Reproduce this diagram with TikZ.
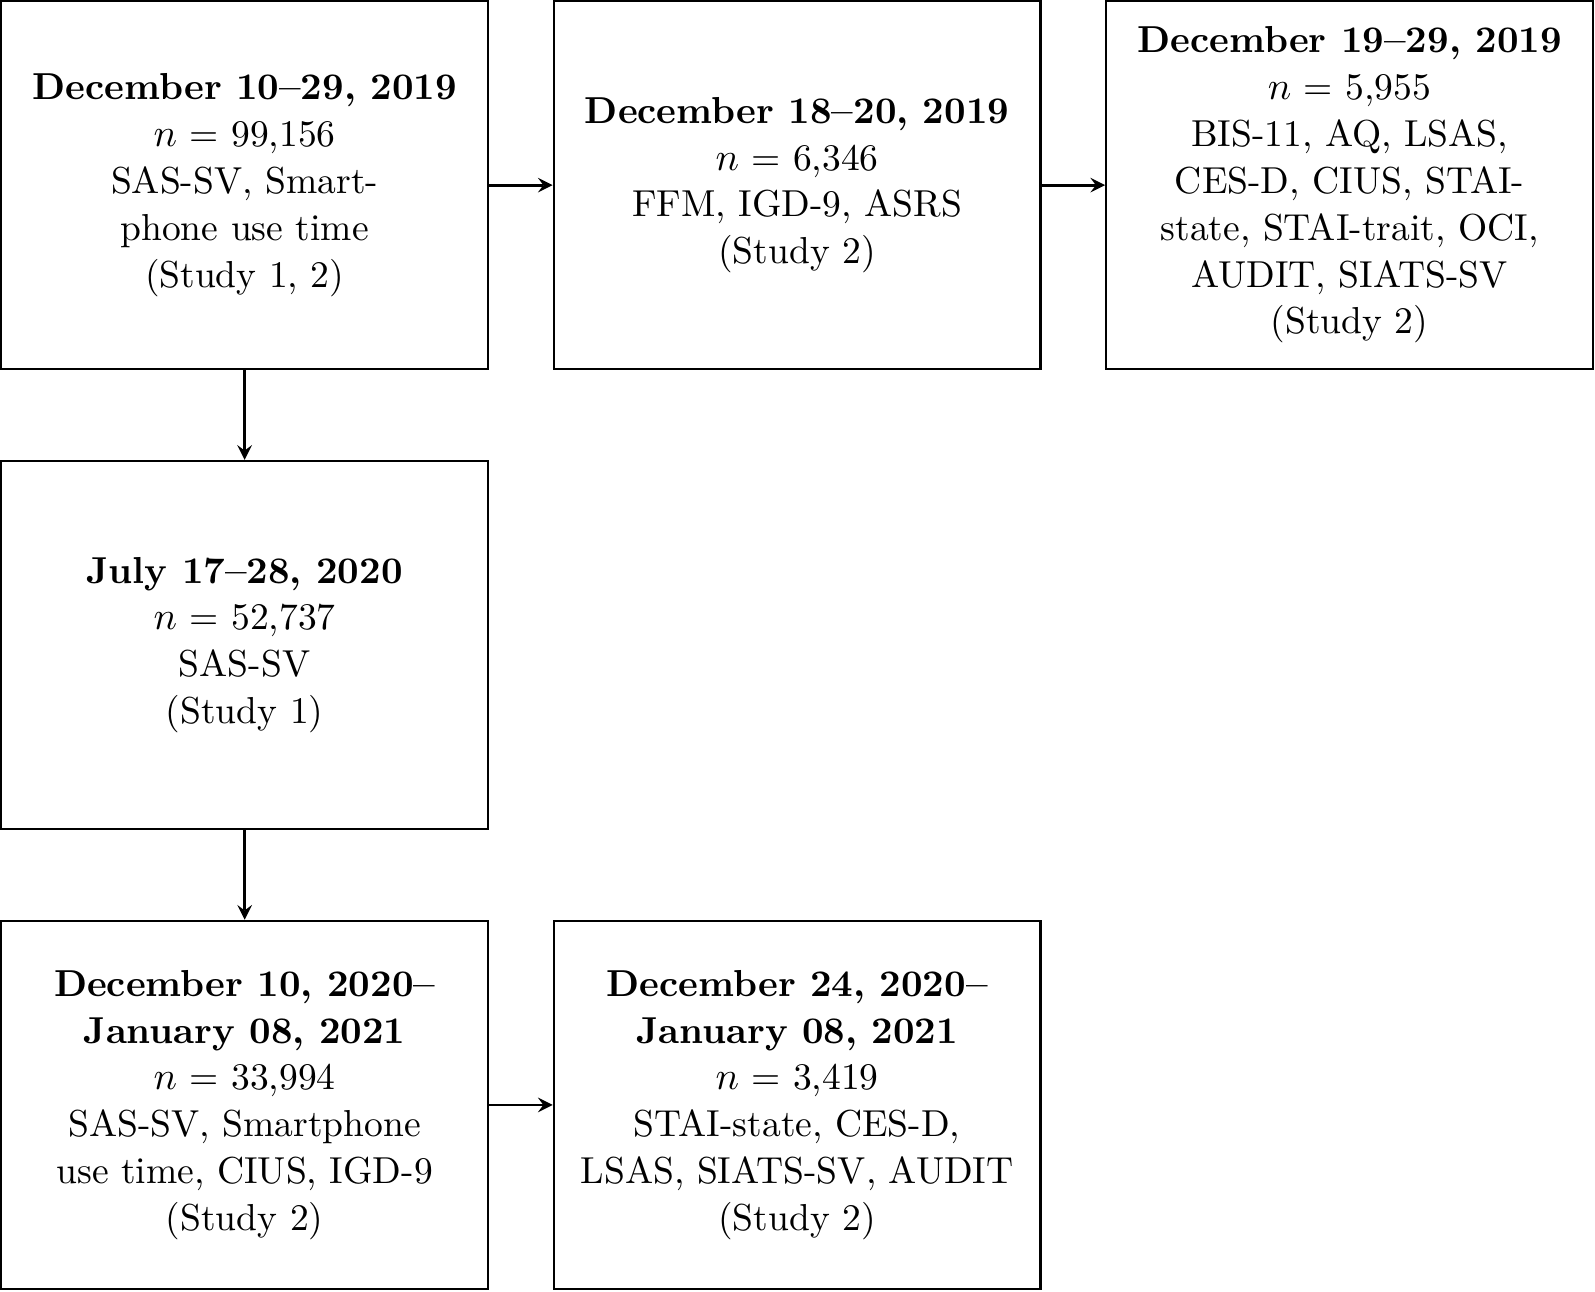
\documentclass[tikz,border=0pt]{standalone}
\usetikzlibrary{positioning}
\begin{document}
\begin{tikzpicture}[
    stage/.style={draw, semithick, minimum width=4.785cm, minimum height=3.62cm, align=center,
        font=\fontsize{10.5}{13.1}\selectfont},
    flow/.style={->, >=stealth, line width=0.8pt}]
    \useasboundingbox (-2.405,1.82) rectangle (13.275,-10.88);
    % Stages
    \node[stage] (dec19a) at (0,0) {\textbf{December 10--29, 2019}\\$n$ = 99{,}156\\SAS-SV, Smart-\\phone use time\\(Study 1, 2)};
    \node[stage, right=0.625cm of dec19a] (dec19b) {\textbf{December 18--20, 2019}\\$n$ = 6{,}346\\FFM, IGD-9, ASRS\\(Study 2)};
    \node[stage, right=0.625cm of dec19b] (dec19c) {\textbf{December 19--29, 2019}\\$n$ = 5{,}955\\BIS-11, AQ, LSAS,\\CES-D, CIUS, STAI-\\state, STAI-trait, OCI,\\AUDIT, SIATS-SV\\(Study 2)};
    \node[stage, below=0.88cm of dec19a] (jul20) {\textbf{July 17--28, 2020}\\$n$ = 52{,}737\\SAS-SV\\(Study 1)};
    \node[stage, below=0.88cm of jul20] (dec20a) {\textbf{December 10, 2020--}\\\textbf{January 08, 2021}\\$n$ = 33{,}994\\SAS-SV, Smartphone\\use time, CIUS, IGD-9\\(Study 2)};
    \node[stage, right=0.625cm of dec20a] (dec20b) {\textbf{December 24, 2020--}\\\textbf{January 08, 2021}\\$n$ = 3{,}419\\STAI-state, CES-D,\\LSAS, SIATS-SV, AUDIT\\(Study 2)};
    % Arrows
    \draw[flow] (dec19a) -- (dec19b);
    \draw[flow] (dec19b) -- (dec19c);
    \draw[flow] (dec19a) -- (jul20);
    \draw[flow] (jul20) -- (dec20a);
    \draw[flow] (dec20a) -- (dec20b);
\end{tikzpicture}
\end{document}
